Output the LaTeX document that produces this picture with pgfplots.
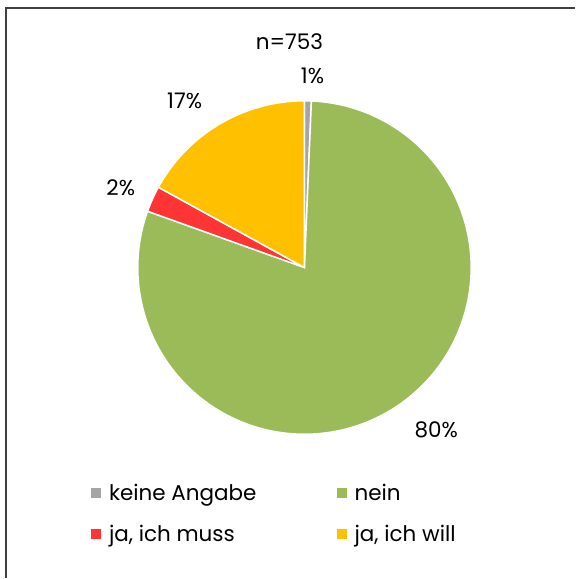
\documentclass[border=0pt]{standalone}
\usepackage{pgfplots}
\pgfplotsset{compat=1.18}
\usepackage{fontspec}
\setmainfont{Poppins}
\definecolor{cgray}{HTML}{A5A5A5}
\definecolor{cgreen}{HTML}{9BBB59}
\definecolor{cred}{HTML}{FF3535}
\definecolor{cyellow}{HTML}{FFC000}
% shares (percent), clockwise from the top
\def\vA{0.66}  % keine Angabe
\def\vB{79.82} % nein
\def\vC{2.52}  % ja, ich muss
\def\vD{17.00} % ja, ich will
\def\cx{305}\def\cy{311}\def\r{167}
\pgfmathsetmacro{\aA}{90}
\pgfmathsetmacro{\aB}{\aA-3.6*\vA}
\pgfmathsetmacro{\aC}{\aB-3.6*\vB}
\pgfmathsetmacro{\aD}{\aC-3.6*\vC}
\pgfmathsetmacro{\aE}{\aD-3.6*\vD}
\newcommand{\lfont}{\fontsize{21.5}{25}\selectfont}
\begin{document}
\begin{tikzpicture}
\begin{axis}[
  scale only axis, width=576pt, height=579pt,
  xmin=0, xmax=576, ymin=0, ymax=579,
  hide axis, clip=false,
  legend columns=2,
  legend image code/.code={\fill[#1,draw=none] (0pt,-5pt) rectangle (10pt,5pt);},
  legend style={at={(axis cs:91,96)}, anchor=north west, draw=none, fill=none,
    inner sep=0pt, font=\lfont, row sep=19pt,
    /tikz/every odd column/.append style={column sep=6pt}},
]
\path (axis cs:0,0) rectangle (axis cs:576,579);
\addplot[fill=cgray, draw=white, line width=1.5pt, domain=\aB:\aA, samples=5]
  ({\cx+\r*cos(x)},{\cy+\r*sin(x)}) -- (axis cs:\cx,\cy) -- cycle;
\addlegendentry{\makebox[226pt][l]{keine Angabe}}
\addplot[fill=cgreen, draw=white, line width=1.5pt, domain=\aC:\aB, samples=200]
  ({\cx+\r*cos(x)},{\cy+\r*sin(x)}) -- (axis cs:\cx,\cy) -- cycle;
\addlegendentry{\makebox[185pt][l]{nein}}
\addplot[fill=cred, draw=white, line width=1.5pt, domain=\aD:\aC, samples=10]
  ({\cx+\r*cos(x)},{\cy+\r*sin(x)}) -- (axis cs:\cx,\cy) -- cycle;
\addlegendentry{\makebox[226pt][l]{ja, ich muss}}
\addplot[fill=cyellow, draw=white, line width=1.5pt, domain=\aE:\aD, samples=60]
  ({\cx+\r*cos(x)},{\cy+\r*sin(x)}) -- (axis cs:\cx,\cy) -- cycle;
\addlegendentry{\makebox[185pt][l]{ja, ich will}}
\node[font=\lfont] at (axis cs:290,537) {n=753};
\node[font=\lfont] at (axis cs:313,503) {1\%};
\node[font=\lfont] at (axis cs:185,478) {17\%};
\node[font=\lfont] at (axis cs:121,391) {2\%};
\node[font=\lfont] at (axis cs:437,148) {80\%};
\draw[line width=2pt, black!75] (axis cs:6,0) -- (axis cs:6,571) -- (axis cs:576,571);
\end{axis}
\end{tikzpicture}
\end{document}
